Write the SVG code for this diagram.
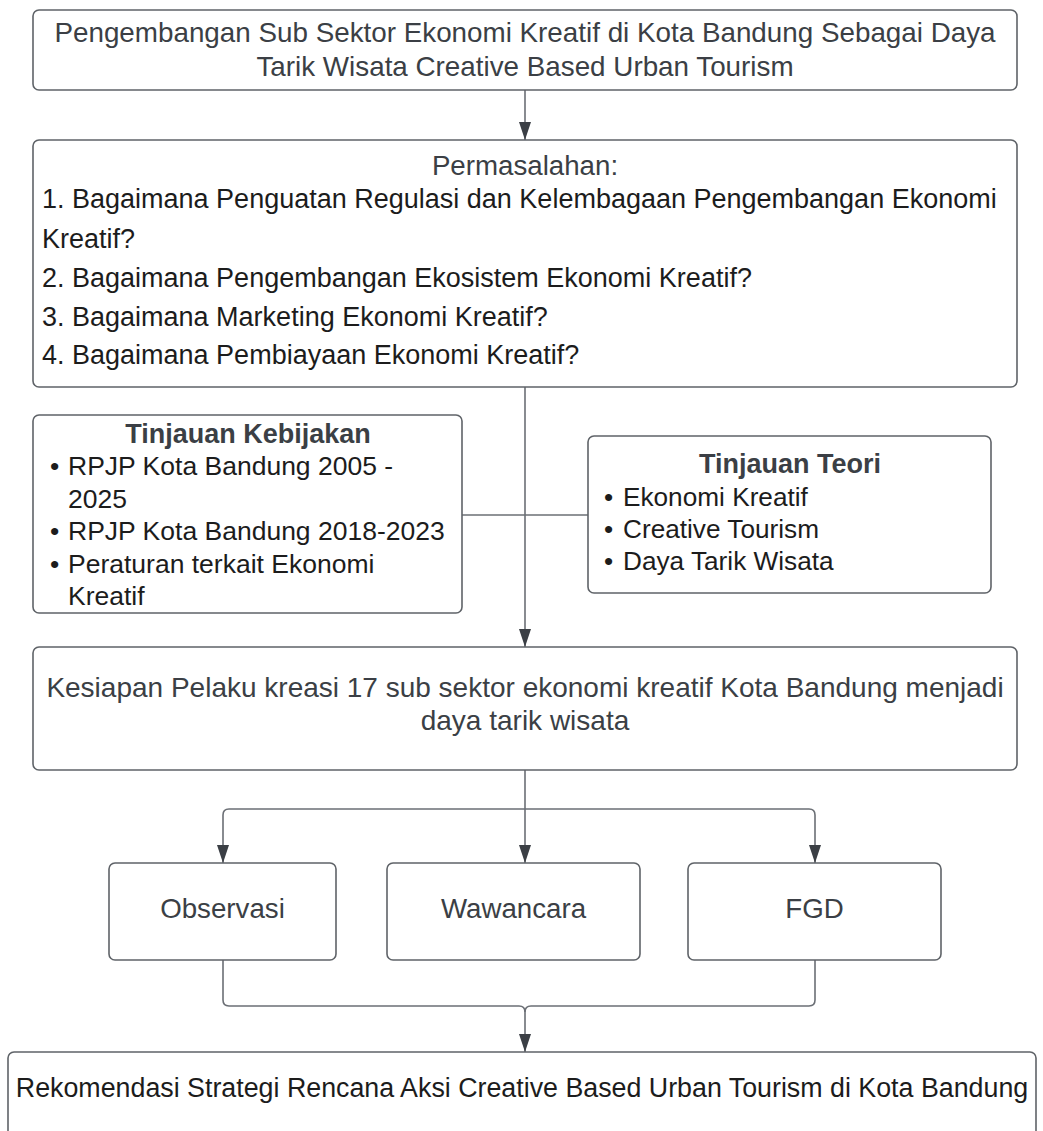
<svg xmlns="http://www.w3.org/2000/svg" width="1043" height="1131" viewBox="0 0 1043 1131">
<style>
.box{fill:#ffffff;stroke:#5f6368;stroke-width:1.6}
.t{font-family:"Liberation Sans",Arial,sans-serif;fill:#3b3f45}
.k{font-family:"Liberation Sans",Arial,sans-serif;fill:#1c1c1c}
.h{font-family:"Liberation Sans",Arial,sans-serif;fill:#3b3f45;font-weight:bold}
.c{text-anchor:middle}
.ln{fill:none;stroke:#6b6f75;stroke-width:1.6}
</style>
<defs>
<marker id="ah" viewBox="0 0 18 12" refX="18" refY="6" markerWidth="18" markerHeight="12" markerUnits="userSpaceOnUse" orient="auto">
<path d="M0,0 L18,6 L0,12 z" fill="#3b3f45"/>
</marker>
</defs>
<rect width="1043" height="1131" fill="#ffffff"/>
<g id="connectors">
<path class="ln" d="M525,90 V140" marker-end="url(#ah)"/>
<path class="ln" d="M525,387 V647" marker-end="url(#ah)"/>
<path class="ln" d="M462,515 H588"/>
<path class="ln" d="M525,770 V863" marker-end="url(#ah)"/>
<path class="ln" d="M525,809 H229 Q223,809 223,815 V863" marker-end="url(#ah)"/>
<path class="ln" d="M525,809 H809 Q815,809 815,815 V863" marker-end="url(#ah)"/>
<path class="ln" d="M223,960 V1000 Q223,1006 229,1006 H519 Q525,1006 525,1012 V1052" marker-end="url(#ah)"/>
<path class="ln" d="M815,960 V1000 Q815,1006 809,1006 H531 Q525,1006 525,1012"/>
</g>
<g id="n-judul">
<rect class="box" x="33" y="10" width="984" height="80" rx="6"/>
<text class="t c" x="525" y="42" font-size="27.8">Pengembangan Sub Sektor Ekonomi Kreatif di Kota Bandung Sebagai Daya</text>
<text class="t c" x="525" y="76" font-size="27.8">Tarik Wisata Creative Based Urban Tourism</text>
</g>
<g id="n-permasalahan">
<rect class="box" x="33" y="140" width="984" height="247" rx="6"/>
<text class="t c" x="525" y="175" font-size="27.7">Permasalahan:</text>
<text class="k" x="42" y="208" font-size="27">1. Bagaimana Penguatan Regulasi dan Kelembagaan Pengembangan Ekonomi</text>
<text class="k" x="42" y="248" font-size="27">Kreatif?</text>
<text class="k" x="42" y="287" font-size="27">2. Bagaimana Pengembangan Ekosistem Ekonomi Kreatif?</text>
<text class="k" x="42" y="326" font-size="27">3. Bagaimana Marketing Ekonomi Kreatif?</text>
<text class="k" x="42" y="364" font-size="27">4. Bagaimana Pembiayaan Ekonomi Kreatif?</text>
</g>
<g id="n-kebijakan">
<rect class="box" x="33" y="415" width="429" height="198" rx="6"/>
<text class="h c" x="248" y="443" font-size="27">Tinjauan Kebijakan</text>
<text class="k" font-size="26.5"><tspan x="50" y="475">•</tspan><tspan x="68" y="475">RPJP Kota Bandung 2005 -</tspan><tspan x="68" y="508">2025</tspan><tspan x="50" y="540">•</tspan><tspan x="68" y="540">RPJP Kota Bandung 2018-2023</tspan><tspan x="50" y="573">•</tspan><tspan x="68" y="573">Peraturan terkait Ekonomi</tspan><tspan x="68" y="605">Kreatif</tspan></text>
</g>
<g id="n-teori">
<rect class="box" x="588" y="436" width="403" height="157" rx="6"/>
<text class="h c" x="790" y="473" font-size="27">Tinjauan Teori</text>
<text class="k" font-size="26.2"><tspan x="604" y="506">•</tspan><tspan x="623" y="506">Ekonomi Kreatif</tspan><tspan x="604" y="538">•</tspan><tspan x="623" y="538">Creative Tourism</tspan><tspan x="604" y="570">•</tspan><tspan x="623" y="570">Daya Tarik Wisata</tspan></text>
</g>
<g id="n-kesiapan">
<rect class="box" x="33" y="647" width="984" height="123" rx="6"/>
<text class="t c" x="525" y="697" font-size="28">Kesiapan Pelaku kreasi 17 sub sektor ekonomi kreatif Kota Bandung menjadi</text>
<text class="t c" x="525" y="730" font-size="28">daya tarik wisata</text>
</g>
<g id="n-observasi">
<rect class="box" x="109" y="863" width="227" height="97" rx="6"/>
<text class="t c" x="222.5" y="918" font-size="27.7">Observasi</text>
</g>
<g id="n-wawancara">
<rect class="box" x="387" y="863" width="253" height="97" rx="6"/>
<text class="t c" x="513.5" y="918" font-size="27.7">Wawancara</text>
</g>
<g id="n-fgd">
<rect class="box" x="688" y="863" width="253" height="97" rx="6"/>
<text class="t c" x="814.5" y="918" font-size="27.7">FGD</text>
</g>
<g id="n-rekomendasi">
<rect class="box" x="8" y="1052" width="1028" height="86" rx="6"/>
<text class="k c" x="522" y="1097" font-size="26.8">Rekomendasi Strategi Rencana Aksi Creative Based Urban Tourism di Kota Bandung</text>
</g>
</svg>
